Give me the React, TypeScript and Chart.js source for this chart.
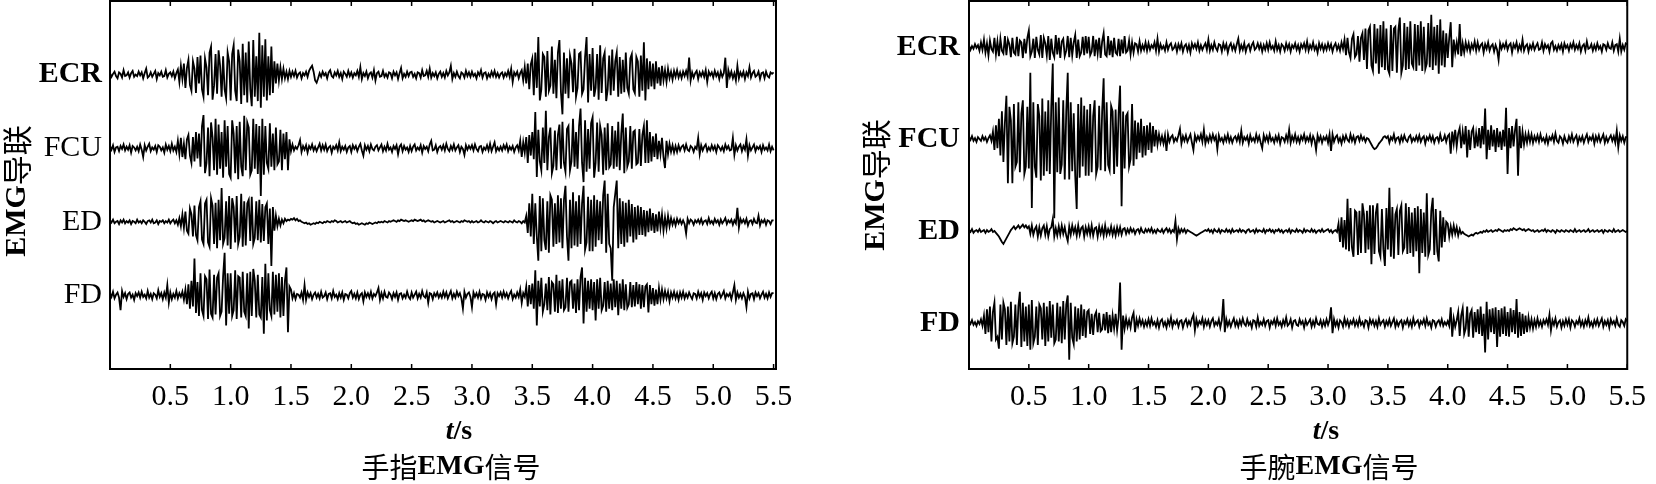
import React, { useEffect, useRef } from "react";
import { Chart, registerables } from "chart.js";

Chart.register(...registerables);

// ---------- data ----------
const DT = 0.0125; // spacing of the plotted samples (s)
const X_TICKS = [0.5, 1.0, 1.5, 2.0, 2.5, 3.0, 3.5, 4.0, 4.5, 5.0, 5.5];
const LEADS = ["FD", "ED", "FCU", "ECR"];
const LANES = [100, 200, 300, 400];
const Y_TITLE = "EMG导联";
const X_TITLE_VAR = "t";
const X_TITLE_UNIT = "/s";
const LEFT_CAPTION = "手指EMG信号";
const RIGHT_CAPTION = "手腕EMG信号";

// 手指 (finger) signals, one row = 0.25 s
const LEFT_ECR = [
  2, -3, 1, 4, -2, -5, 3, 1, -4, 6, -2, -1, 3, -4, 2, 5, -3, 0, -2, 4,
  -1, 3, -5, 2, 8, -4, -2, 3, -3, 1, 5, -6, 2, -1, 4, -3, -2, 6, -4, 1,
  3, -2, 4, -5, 2, 7, -10, 12, -6, 15, -18, 9, 20, -14, -22, 18, 8, -25, 24, -12,
  26, -20, -30, 22, 10, -28, 30, 38, -34, -15, 28, -26, 33, 12, -30, 25, -20, -32, 30, 18,
  -35, 28, 40, -22, -36, 34, 18, -40, 42, -28, 30, -38, 45, -20, -43, 47, -30, 25, -36, 57,
  -45, 40, -30, 48, -35, 25, -28, 38, -25, 18, -12, 15, -8, 10, -6, 8, -5, 4, -6, 5,
  -3, 4, -2, 5, -4, 1, 3, -5, 2, -1, 4, -3, 5, 9, 12, 4, -8, -11, -5, 2,
  -3, 4, -1, 2, -5, 3, 6, -2, -4, 3, -1, 5, -3, 2, -6, 4, 1, -3, 5, -2,
  3, -4, 2, -1, 5, -3, 10, -6, 2, -2, 4, -5, 1, 3, -4, 6, -8, 2, 4, -3,
  -2, 5, -3, 1, -4, 3, 2, -5, 4, -1, 3, -6, 2, 9, -5, 1, -3, 4, -2, 3,
  4, -3, 1, -5, 3, 2, -4, 6, -2, -1, 5, -3, 8, -4, 2, -2, 3, -5, 1, 4,
  -3, 2, -4, 5, -1, 3, 12, -6, 2, -3, 4, -2, -5, 3, 1, -4, 5, -2, 3, -3,
  4, -2, 1, -5, 3, -1, 6, -4, 2, 3, -5, 1, -3, 4, -2, 5, -3, 2, -4, 1,
  3, -4, 2, -2, 5, -3, 8, -10, 3, -1, 4, -5, 2, 6, -8, 10, -12, 15, -20, 14,
  22, -28, 30, -18, 51, -35, -20, 28, 24, -30, 32, -22, -15, 38, -26, 20, -32, 30, 47, -24,
  -54, 30, -26, 22, -32, 26, 15, -24, 35, -30, -18, 28, 30, -26, -20, 24, 51, -38, 28, -22,
  36, -30, -18, 28, -34, 40, -25, 22, 30, -36, -20, 26, -28, 34, -22, 18, 30, -30, 24, -26,
  20, -24, 30, -18, -26, 22, 28, -20, -25, 24, 18, -30, 26, -22, 44, -35, 22, -20, 18, -16,
  15, -20, 18, -12, 10, -15, 12, -8, 6, -10, 8, -5, 4, -7, 5, -3, 6, -4, 3, -5,
  4, -2, 5, -3, 23, -8, 3, -4, 2, 5, -6, 3, -2, 4, -3, 6, -10, 4, -1, 3,
  -4, 5, -2, 3, -6, 4, -3, 2, 23, -18, 6, -3, 4, -5, 2, -8, 12, -5, 3, -2,
  4, -6, 3, -2, 10, -4, 2, 5, -3, -1, 4, -6, 2, 3, -5, 4, -2, -4, 3, 1,
  3,
];
const LEFT_FCU = [
  3, -2, 4, -5, 1, 2, -4, 3, -1, 5, -3, 2, -2, 4, -6, 3, 1, -3, 2, -4,
  5, -2, -12, 4, -3, 2, 6, -4, 1, -2, 3, -5, 4, 2, -3, 1, -6, 5, -2, 3,
  -4, 6, -3, 2, -5, 10, -8, 14, -12, 6, -15, 12, 18, -10, -20, 15, -18, 22, -14, 20,
  -25, 30, 45, -34, -20, 28, -38, 35, 15, -30, 40, -36, 32, -28, 22, -40, 38, -25, 30, -35,
  -40, 38, 20, -34, 30, -42, 36, -25, -38, 44, -30, 35, 28, -36, -30, 40, -28, 33, -35, 30,
  -65, 40, -36, 30, -20, -28, 34, -25, 20, -30, 28, -22, -18, 25, -30, 20, -15, 22, -30, 12,
  -4, 5, -3, 2, -1, 4, 11, -5, 3, -2, 4, -6, 3, -1, 5, -3, 2, -4, 1, 6,
  -3, 4, -2, 5, -4, 1, 3, -6, 2, -1, 4, -3, 8, -4, 2, -2, 3, -5, 1, 3,
  -5, 4, -1, 3, -4, 2, 6, -3, -10, 4, -2, 3, -4, 5, -1, -3, 2, 4, -3, 1,
  5, -4, 2, -3, 6, -2, 1, -5, 3, -1, 4, -8, 2, 5, -4, 3, -2, 1, -5, 3,
  -4, 2, 5, -3, 1, -2, 4, -6, 3, -1, 2, -4, 5, 10, -3, -2, 4, -5, 1, 3,
  -2, 4, -3, 6, -1, -4, 3, -2, 5, -3, 1, 4, -5, 2, -1, -9, 4, -2, 3, -1,
  4, -3, 5, -1, -4, 2, 3, -5, 1, -2, 4, -3, 6, -4, 2, 8, -4, 1, -3, 2,
  -3, 4, -1, 5, -4, 2, -2, 3, -5, 1, 4, -3, 10, -12, 8, -6, 15, -20, 18, -10,
  22, -15, 49, -39, 25, -18, -30, 28, -20, 51, -30, 15, 28, -34, -24, 24, -30, 18, 32, -28,
  36, -20, -32, 26, 30, -30, -18, 40, -25, 22, -28, 30, 54, -20, -46, 38, -32, 26, -28, 34,
  42, -40, -20, 35, -32, 30, 18, -36, 28, -30, 34, -26, -22, 30, -28, 24, -25, 36, -30, 20,
  47, -34, 28, -25, -18, 30, -28, 22, 24, -22, -20, 26, -24, 18, 30, -20, 38, -20, 22, -18,
  16, -12, 20, -15, 10, -8, 14, -12, -27, 10, -8, 6, -5, 4, -6, 3, -5, 4, -3, 2,
  4, -3, 5, -2, -4, 3, 1, -5, 2, -1, 14, -8, 4, -3, 2, 5, -4, 1, -3, 4,
  -2, 3, -5, 4, 1, -3, 2, -4, 5, -1, 3, -3, -2, 14, -9, 4, -3, 2, 5, -4,
  3, -2, 12, -10, 4, -3, 1, 5, -4, 2, -1, 3, -5, 4, -2, 1, -3, 5, -4, 2,
  -3,
];
const LEFT_ED = [
  2, -1, 3, -2, 0, 1, -3, 2, -1, 3, -2, 1, -1, 2, -3, 1, 0, -2, 3, -1,
  1, -2, 2, 0, -3, 1, 2, -1, 3, -2, -1, 2, -3, 1, 0, 2, -2, 1, -1, 3,
  -2, 1, 3, -2, 2, -4, 5, -6, 10, -8, 14, -12, -16, 18, 10, -20, 22, -18, -25, 20,
  28, -24, -30, 25, 30, -28, -34, 32, 22, -30, 26, -36, 30, -25, 46, -30, -22, 28, -32, 35,
  -37, 32, 20, -28, 35, -30, -20, 38, -34, 28, -32, 25, 30, -26, 34, -30, -22, 28, -25, 30,
  -28, 24, -26, 20, 25, -30, 18, -60, 20, -12, 8, -6, 4, -5, 3, -2, 4, 1, 3, 2,
  4, 3, 5, 2, 4, 1, 2, 0, -1, -2, -1, -3, -2, -4, -3, -2, -3, -1, -2, 0,
  -1, -2, 0, -1, 1, 0, -1, 1, 0, 2, 1, -1, 0, 1, -1, 0, 1, -1, 0, 1,
  -1, -2, -1, -3, -2, -4, -3, -2, -3, -4, -2, -3, -1, -2, -3, -2, -1, -2, 0, -1,
  0, -1, 1, 0, -1, 1, 0, 1, 2, 1, 0, 2, 1, 3, 2, 1, 2, 1, 0, 1,
  2, 1, 3, 2, 1, 2, 3, 1, 2, 0, 1, 2, 1, 0, 1, -1, 0, 1, 0, -1,
  0, 1, -1, 0, 1, 2, 0, 1, -1, 0, 1, 0, -1, 1, 0, 2, 1, 0, 1, -1,
  1, -1, 0, 1, -1, 0, 2, 0, -1, 1, 0, -1, 1, 0, -2, 0, 1, -1, 0, 1,
  0, -1, 1, 0, -1, 1, 0, -1, 2, 0, -1, 1, 0, -2, 1, -1, 8, -15, 25, -20,
  38, -30, 25, -20, -53, 35, -40, 32, -25, -38, 28, -42, 36, 30, -34, 25, -30, 36, -28, 32,
  -36, 30, 49, -20, -53, 30, -36, 40, -32, 28, -34, 36, -30, 25, 49, -38, -28, 34, -40, 30,
  -40, 36, -34, 30, -25, 28, -30, 36, 56, -42, 38, -30, -36, -80, 20, 38, 56, -36, 32, -30,
  28, -34, 26, -28, 30, -20, 24, -28, 20, -24, 22, -18, 20, -18, 16, -20, 15, -14, 18, -12,
  12, -15, 10, -13, 14, -8, 10, -12, 6, -9, 8, -6, 5, -4, 3, -5, 4, -2, 3, -3,
  2, -3, -16, 4, -2, 3, 1, -4, 2, -1, 3, -2, 4, -3, 1, 2, -3, 5, -2, 1,
  -3, 4, -1, 2, -4, 3, -2, 1, 5, -3, 2, -1, 3, -4, 2, -2, 19, -8, 4, -1,
  3, -2, 4, -5, 1, 2, -3, 4, -1, -2, 8, -5, 2, -1, 3, -4, 2, 1, -3, 2,
  2,
];
const LEFT_FD = [
  3, -2, 5, -4, 1, 4, -3, -20, 6, -2, 3, -5, 2, 4, -3, 1, -6, 3, -1, 4,
  -3, 5, -2, 1, -4, 6, -3, 2, -5, 3, 1, -4, 7, -2, 3, -5, 4, -3, 14, -10,
  4, -5, 2, -3, 6, -4, 3, -2, 5, -6, 8, -12, 15, -18, 20, -15, 50, -24, 18, -28,
  30, -20, -28, 26, 22, -32, 35, -25, -30, 28, -26, 24, 30, -28, -22, 26, 58, -41, 30, -25,
  30, -28, -20, 34, -32, 26, 24, -30, 32, -22, -28, 30, -45, 32, -28, 36, 20, -30, 28, -26,
  -30, 25, -52, 43, -34, 30, -20, -28, 32, -26, 28, -22, 30, -30, 25, -28, 20, 38, -50, 12,
  8, -4, 3, -5, 2, 1, -3, 4, -6, 14, -6, 4, -2, 3, -5, 1, 4, -3, 2, -4,
  5, -3, -1, 4, -5, 2, 3, -4, 6, -2, 1, -5, 3, -3, 4, -6, 2, 1, -4, 3,
  6, -3, 2, -4, 4, -5, 1, 3, -8, 4, -2, 3, -3, 5, -4, 2, -1, 4, 10, -6,
  3, -4, 5, -2, -3, 4, 1, -5, 3, -2, 4, -6, 2, 3, -4, 1, -3, 5, -2, -5,
  4, -3, 1, 5, -4, 2, -3, 6, -1, -3, 4, -10, 3, 2, -5, 3, -1, 4, -3, 2,
  -3, 5, -2, 4, -4, 1, 6, -4, 2, -3, 5, -1, 3, -4, -18, 5, -3, 2, 4, -2,
  -16, 4, -2, 3, -3, 5, -4, 2, 1, -6, 4, -2, 3, -5, 2, 4, -12, 3, -1, 4,
  -3, 5, -2, 3, -4, 2, 6, -5, 1, -3, 4, -2, 8, -10, 3, -2, 12, -15, 14, -12,
  16, -18, 34, -41, 20, -15, 24, -22, -12, 16, -20, 25, -26, 18, 15, -22, 28, -24, 20, -18,
  22, -20, -16, 24, -22, 18, 20, -18, 16, -24, 22, -20, 25, 38, -38, 24, -22, 20, -18, 22,
  -20, 18, -34, 22, -18, 24, -20, -14, 18, -22, 20, -18, 16, -20, 22, -16, 20, -27, 16, -18,
  22, -20, 15, -17, -12, 18, -16, 14, -15, 18, -12, 15, -18, 14, -16, 12, 15, -23, 14, -12,
  10, -14, 8, -12, 10, -6, 8, -5, 6, -4, 5, -8, 4, -3, 5, -4, 3, -6, 4, -3,
  5, -4, 2, -3, 4, -1, -5, 3, 2, -4, 5, -2, 3, -6, 4, -1, 3, -4, 2, 5,
  -4, 3, -5, 2, 4, -3, 1, 6, -4, 2, -1, 3, -5, 4, 14, -6, 4, -3, 2, -4,
  3, -2, -16, 5, -4, 2, 3, -5, 4, -1, 3, -4, 1, 5, -3, 2, -4, 4, -2, 3,
  3,
];

// 手腕 (wrist) signals, one row = 0.25 s
const RIGHT_ECR = [
  2, -3, 1, -2, 3, -1, 2, -4, 5, -3, 8, -6, 4, -9, 7, -2, -5, 10, -8, 6,
  -10, 9, -4, -7, 12, -9, 8, 3, -11, 10, -6, -8, 11, -10, 7, 5, -12, 9, -7, 10,
  18, -10, -5, 9, -12, 11, -3, -8, 13, -12, 10, 4, -9, 12, -14, 9, -6, -11, 13, -8,
  10, -12, 6, 9, -10, -4, 12, -11, 10, -9, 5, 13, -12, 8, -10, -6, 11, -9, 12, -7,
  11, -9, -5, 12, -10, 8, -7, 10, -12, 6, 15, -8, -10, 12, -9, 7, -11, 10, -6, -8,
  9, -10, 8, -7, 12, -6, -4, 7, -8, 5, -6, 4, 3, -5, 6, -4, 2, -3, 5, -4,
  4, -3, 2, -1, 5, -4, 9, -5, 3, -2, 1, -4, 5, -3, 2, 4, -3, -1, 3, -5,
  3, -2, 4, -5, 1, 3, -4, 2, -6, 4, -1, 3, -2, 5, -4, 2, -3, 1, 4, -3,
  8, -4, 2, -3, 5, -1, -4, 3, 2, -5, 4, -2, 3, -6, 1, 4, -3, 2, -4, 3,
  9, -4, 2, -3, 4, -5, 1, 3, -4, 2, 5, -3, -1, 4, -2, 3, -5, 2, -3, 4,
  -3, 5, -2, 1, -4, 6, -3, 2, -5, 3, 1, -4, 4, -2, 3, -5, 2, -1, 4, -3,
  2, -5, 3, -1, 4, -3, 6, -4, 2, -2, 5, -3, 1, -6, 4, -2, 3, -4, 2, -3,
  4, -2, 3, -5, 1, 4, -3, 2, -4, 5, -2, 8, -9, 10, -6, -12, 9, 14, -11, -8,
  12, -16, 10, 15, -14, 20, -24, 18, 22, -20, -26, 25, -18, 20, -29, 24, -22, 28, -25, 20,
  -24, -29, 24, -26, 20, 22, -28, 18, 32, -28, -20, 26, -25, 22, -24, 28, -18, -22, 25, -26,
  24, -20, 28, -26, 22, -24, -18, 26, -22, 35, -25, 22, -20, 24, -29, 30, -20, 18, -22, 15,
  -12, 10, 27, -22, 8, -6, 5, -8, 25, -10, 4, -6, 5, -3, 4, -5, 3, -2, 6, -4,
  5, -3, 2, 4, -6, 3, -2, 5, -4, 1, 3, -5, 2, -3, -14, 4, -2, 3, -1, 5,
  -3, 2, 4, -6, 3, -1, 5, -4, 2, -3, 8, -4, 1, 3, -5, 2, -2, 4, -3, 1,
  4, -3, -2, 5, -4, 3, -1, 2, -5, 4, 6, -3, 1, -4, 2, -2, 3, -5, 4, -1,
  2, -4, 3, -1, 5, -3, 2, -2, 4, -5, 1, 3, -4, 6, -2, -1, 3, -4, 2, -3,
  4, -2, 1, -5, 3, 2, -3, 4, -1, -2, 5, -4, 2, 3, -5, 9, -5, 2, -3, 4,
  3,
];
const RIGHT_FCU = [
  2, -1, 3, -2, 1, -3, 2, 0, -2, 3, -1, 2, -3, 1, 4, -2, 8, -12, 15, -10,
  22, -18, 30, -25, 18, 47, -48, 35, 20, -48, 38, -30, -25, 40, -36, 28, 42, -38, -30, 35,
  -32, 72, -75, 40, -30, -42, 38, 25, -45, 44, -40, 30, -35, 42, -38, 35, 82, -86, 40, -36,
  45, -38, -28, 42, -44, 30, 72, -44, 40, -35, 28, -40, -76, 38, -42, 45, -30, 36, -40, 32,
  -40, 38, -36, 25, 42, -38, -30, 36, -34, 30, 66, -35, 40, -28, -34, 36, 30, -38, 32, -30,
  28, 58, -73, 30, -32, 25, 28, -30, -22, 38, -29, 20, -22, 18, -15, 22, -20, 14, -18, 15,
  -12, 18, -15, 14, -8, 10, -6, 5, -4, 3, -5, 4, -13, 5, -3, 2, 4, -3, 1, -2,
  4, 11, -5, 3, -2, 4, -3, 1, 5, -4, -12, 4, -2, 3, -1, 5, -3, 10, -5, 2,
  -3, 4, -2, 5, -1, 3, -11, 4, -2, 1, -4, 3, -2, 5, -3, 2, -4, 1, 3, -2,
  4, -3, 9, -4, 2, -1, 3, -5, 4, -2, 1, -3, 5, -2, 3, -4, -10, 4, -2, 3,
  -3, 5, -2, 1, -4, 3, -2, 4, -5, 2, 1, -3, 4, -2, 10, -4, 3, -2, 5, -3,
  2, -4, 3, -1, 5, -3, 2, -2, 4, -5, 3, -1, -12, 4, -2, 3, -4, 2, -1, 3,
  -4, 5, -13, 5, -3, 2, 4, -3, 1, -5, 3, -2, 4, -1, -3, 5, -2, 3, -4, 2,
  3, -2, 4, -1, 2, -3, 1, 0, -3, -6, -9, -11, -10, -8, -5, -3, -1, 2, 3, 1,
  3, -4, 2, -1, 5, -3, 1, 2, -4, 3, -2, 4, -1, -3, 2, 4, -3, 1, -2, 3,
  -2, 4, -3, 1, 3, -5, 2, -1, 4, -2, 3, -4, 1, 2, -3, 5, -2, -1, 4, -3,
  3, 5, -16, 8, -5, 10, -8, 6, 12, -10, 8, -6, 14, -20, 10, -12, 8, 12, -10, 6,
  -8, 12, -10, 14, -6, 33, -22, 10, -12, 15, -8, 10, -14, 12, -9, 8, -12, 10, -8, 34,
  -38, 12, -10, 14, -8, 10, 22, -40, 14, -10, 8, -6, 5, -4, 6, -3, 5, -4, 3, -2,
  4, -3, 5, -2, 1, -4, 3, -5, 2, -1, 4, -3, 6, -2, -4, 3, 1, -5, 3, -2,
  -4, 3, -2, 5, -3, 1, 4, -5, 2, -2, 3, -4, 1, 5, -3, 2, -1, 4, -5, 3,
  -2, 4, -3, 1, 5, -4, 2, -3, 1, 4, -2, 3, -4, 9, -9, 4, -2, 3, -4, 2,
  2,
];
const RIGHT_ED = [
  1, -1, 2, -2, 0, 1, -1, 2, -1, 0, 1, -2, 1, -1, 0, 2, -1, 0, -2, -4,
  -6, -9, -12, -14, -11, -8, -5, -2, 1, 3, 5, 2, 4, 6, 3, 5, 7, 4, 6, 3,
  5, -3, 6, -4, 2, 5, -6, 4, -5, 3, 6, -4, 5, -6, 2, 4, 13, -6, 3, -5,
  5, -4, 6, -3, 4, -5, -11, 5, -4, 6, -2, 4, -5, 6, -4, 3, 5, -6, 4, -3,
  5, -4, 6, -5, 3, 4, -6, 5, -3, 4, -5, 6, -4, 2, -3, 5, -4, 3, -5, 4,
  -3, 4, -4, 2, 3, -3, 2, -2, 3, -1, 2, -3, 1, 2, -2, 3, -1, -2, 2, -1,
  2, -1, 3, -2, 1, -2, 2, 0, -1, 2, -2, 1, 3, -1, 2, -2, 1, -1, 11, -9,
  3, -2, 2, -1, 2, -2, 1, 0, -1, -2, -3, -4, -5, -4, -3, -2, -1, 0, 1, 0,
  2, -1, 1, -2, 2, 0, -1, 2, -2, 1, 0, -1, 2, -1, 1, -2, 2, -1, 0, 1,
  -1, 2, -1, 1, 0, -2, 1, 2, -1, 0, 1, -2, 2, -1, 1, 0, -1, 2, -2, 1,
  0, 2, -1, 1, -2, 1, 0, 2, -1, 1, -2, 0, 1, -1, 2, -2, 1, 0, -1, 2,
  -1, 1, 0, -2, 2, -1, 1, 0, -1, 2, -1, 1, -2, 0, 1, -1, 2, -1, 0, 1,
  2, -1, 1, -2, 0, 1, -1, 8, -12, 15, -18, 12, -20, 35, -22, 25, -18, -28, 22, 20,
  -26, 22, -24, 30, 18, -24, 22, -20, 28, -36, 28, -25, 20, 30, -22, -28, 24, -20, -38, 25,
  -20, 47, -28, 26, -30, 18, 24, -26, 22, 28, -22, -18, 30, -25, 26, -24, 20, -28, 25, -22,
  27, -46, 24, -24, 20, -28, 41, -26, -20, 22, 36, -26, 24, -22, -33, 22, -18, 15, -12, 10,
  8, -6, 5, -4, 6, -3, 4, -5, 2, -3, -1, -3, -4, -5, -6, -5, -4, -5, -3, -2,
  -3, -2, -1, -2, 0, -1, 1, -1, 0, 1, -1, 0, 1, 0, 2, 1, 0, -1, 1, 0,
  1, 0, 2, 1, 3, 2, 1, 2, 3, 2, 1, 2, 0, 1, 2, 1, 0, 1, -1, 0,
  1, -1, 0, 1, 0, 2, -1, 1, 0, -1, 1, 0, -2, 1, 0, -1, 1, 0, -1, 1,
  0, -1, 1, 0, -1, 2, -1, 0, 1, -1, 0, 1, -1, 0, 2, -1, 0, 1, -1, 0,
  1, -1, 0, 1, -2, 1, 0, -1, 1, 0, -1, 2, -1, 0, 1, -1, 0, 1, 0, -1,
  0,
];
const RIGHT_FD = [
  2, -1, 3, -2, 1, -3, 2, -1, 4, -3, 8, -12, 15, -10, 18, -20, 12, 22, -18, -15,
  -28, 20, -18, 22, 15, -24, 18, -20, 23, -22, -15, 20, -24, 18, 34, -26, 22, -20, 18, -25,
  20, -29, 25, -22, -15, 18, -24, 20, 16, -18, 22, -25, 18, -20, 24, -16, 20, -22, -18, 22,
  -20, 18, -22, 24, -18, 20, 30, -40, 22, -16, -23, 18, -20, 16, -18, 20, -14, 15, -16, 12,
  14, -12, 10, -13, 8, 12, -10, 11, -9, -7, 10, -8, 12, -11, 9, -10, 8, -6, 10, -8,
  6, 44, -29, 8, -6, 5, -4, 3, -5, 6, 11, -10, 4, -3, 5, -2, 3, -4, 2, -3,
  4, -3, 5, -2, 1, -4, 3, -5, 2, 4, -3, 1, -5, 3, -2, 6, -4, 2, -1, 3,
  -4, 2, 3, -5, 1, 4, -3, 2, -2, 5, 9, -8, 4, -3, 2, -1, 5, -4, 3, -2,
  3, -4, 2, 5, -3, 1, -2, 4, -5, 3, 26, -10, 4, -3, 2, -4, 1, 5, -3, 2,
  -4, 3, -2, 5, -1, -3, 4, -2, 1, -5, 3, 2, -4, 6, -3, 1, -2, 4, -3, 2,
  3, -5, 2, -1, 4, -3, 5, -2, 1, -4, 3, -2, 6, -3, -1, 4, -5, 2, 3, -2,
  -3, 4, -1, 2, -5, 3, -2, 1, 4, -4, 2, -3, 5, -1, -2, 3, -4, 2, -3, 4,
  -2, 3, 17, -11, 4, -3, 2, -5, 3, 1, -4, 5, -2, 3, -4, 2, -1, 4, -3, 2,
  -3, 5, -2, 1, -4, 3, 2, -5, 4, -1, 3, -3, 2, -4, 5, -2, 1, 3, -4, 2,
  -2, 4, -3, 1, 5, -4, 2, -3, 1, 3, -5, 2, -1, 4, -3, 2, -4, 5, -2, 1,
  3, -4, 2, -1, 4, -3, 5, -2, 1, -5, 3, 2, -4, 1, 3, -2, 4, -3, 1, -2,
  2, -3, 17, -15, 5, -4, 3, 12, -14, 8, 16, -12, -6, 18, -15, 10, 14, -16, 12, -10,
  15, -12, 18, -14, 10, -32, 23, -18, 15, -10, 16, -12, 17, -26, 14, -15, 16, -12, 18, -14,
  12, -15, 16, -10, 14, -12, 26, -16, 12, -14, 10, -12, 8, -10, 6, -5, 4, -6, 3, -4,
  5, -3, 2, -4, 3, -1, 4, -2, 9, -8, 3, -2, 5, -4, 1, 3, -5, 2, -3, 4,
  -2, 4, -5, 3, 1, -4, 2, -1, 5, -3, 2, -4, 3, -2, 6, -3, 1, -4, 3, -2,
  4, -3, 1, 5, -4, 2, -2, 3, -5, 4, -1, 2, -3, 5, -2, -4, 3, 1, -3, 4,
  2,
];

// ---------- drawing ----------
const SERIF = '"Liberation Serif", "Times New Roman", serif';
const CJK = '"Noto Sans CJK SC", sans-serif';

type Run = { text: string; font: string };

function splitRuns(text: string, size: number): Run[] {
  return text
    .split(/([A-Za-z]+)/)
    .filter((s) => s.length > 0)
    .map((s) =>
      /[A-Za-z]/.test(s)
        ? { text: s, font: `bold ${size}px ${SERIF}` }
        : { text: s, font: `${size}px ${CJK}` }
    );
}

function drawRuns(ctx: CanvasRenderingContext2D, runs: Run[], x: number, y: number, rotate: boolean) {
  ctx.save();
  ctx.translate(x, y);
  if (rotate) ctx.rotate(-Math.PI / 2);
  ctx.textBaseline = "middle";
  ctx.textAlign = "left";
  ctx.fillStyle = "#000";
  let total = 0;
  const widths = runs.map((r) => {
    ctx.font = r.font;
    const w = ctx.measureText(r.text).width;
    total += w;
    return w;
  });
  let cx = -total / 2;
  runs.forEach((r, i) => {
    ctx.font = r.font;
    ctx.fillText(r.text, cx, 0);
    cx += widths[i];
  });
  ctx.restore();
}

type Panel = {
  id: string;
  series: number[][];
  yMin: number;
  yMax: number;
  xMax: number;
  axisWidth: number;
  padRight: number;
  labelPad: number;
  bold: boolean[];
  caption: string;
  yTitleAt: [number, number];
  xTitleAt: [number, number];
  captionAt: [number, number];
};

const PANELS: Panel[] = [
  {
    id: "finger",
    series: [LEFT_FD, LEFT_ED, LEFT_FCU, LEFT_ECR],
    yMin: 0,
    yMax: 500,
    xMax: 5.52,
    axisWidth: 110,
    padRight: 52,
    labelPad: 8,
    bold: [false, false, false, true],
    caption: LEFT_CAPTION,
    yTitleAt: [17, 191],
    xTitleAt: [459, 432],
    captionAt: [451, 467],
  },
  {
    id: "wrist",
    series: [RIGHT_FD, RIGHT_ED, RIGHT_FCU, RIGHT_ECR],
    yMin: 50,
    yMax: 450,
    xMax: 5.5,
    axisWidth: 141,
    padRight: 22,
    labelPad: 9,
    bold: [true, true, true, true],
    caption: RIGHT_CAPTION,
    yTitleAt: [48, 185],
    xTitleAt: [498, 432],
    captionAt: [501, 467],
  },
];

function buildChart(canvas: HTMLCanvasElement, p: Panel) {
  const datasets = p.series.map((arr, k) => ({
    label: LEADS[k],
    data: arr.map((v, i) => ({ x: i * DT, y: LANES[k] + v })),
    borderColor: "#000",
    borderWidth: 1.8,
    pointRadius: 0,
    tension: 0,
    fill: false,
  }));

  const overlay = {
    id: "overlay-" + p.id,
    afterDraw(chart: any) {
      const { ctx, chartArea: a, scales } = chart;
      ctx.save();
      ctx.strokeStyle = "#000";
      ctx.lineWidth = 2;
      ctx.strokeRect(a.left, a.top, a.right - a.left, a.bottom - a.top);
      ctx.lineWidth = 1.5;
      X_TICKS.forEach((v) => {
        const px = scales.x.getPixelForValue(v);
        ctx.beginPath();
        ctx.moveTo(px, a.top);
        ctx.lineTo(px, a.top + 5);
        ctx.moveTo(px, a.bottom);
        ctx.lineTo(px, a.bottom - 5);
        ctx.stroke();
      });
      ctx.restore();
      drawRuns(ctx, splitRuns(Y_TITLE, 30), p.yTitleAt[0], p.yTitleAt[1], true);
      drawRuns(
        ctx,
        [
          { text: X_TITLE_VAR, font: `italic bold 28px ${SERIF}` },
          { text: X_TITLE_UNIT, font: `bold 28px ${SERIF}` },
        ],
        p.xTitleAt[0],
        p.xTitleAt[1],
        false
      );
      drawRuns(ctx, splitRuns(p.caption, 28), p.captionAt[0], p.captionAt[1], false);
    },
  };

  return new Chart(canvas, {
    type: "line",
    data: { datasets } as any,
    options: {
      responsive: false,
      animation: false,
      devicePixelRatio: 1,
      events: [],
      layout: { padding: { left: 0, top: 1, right: p.padRight, bottom: 0 } },
      plugins: { legend: { display: false }, tooltip: { enabled: false } },
      scales: {
        x: {
          type: "linear",
          min: 0,
          max: p.xMax,
          grid: { display: false, drawTicks: false },
          border: { display: false },
          afterBuildTicks: (s: any) => {
            s.ticks = X_TICKS.map((v) => ({ value: v }));
          },
          afterFit: (s: any) => {
            s.height = 115;
          },
          ticks: {
            autoSkip: false,
            maxRotation: 0,
            padding: 10,
            color: "#000",
            font: { family: SERIF, size: 30 },
            callback: (v: any) => Number(v).toFixed(1),
          },
        },
        y: {
          type: "linear",
          min: p.yMin,
          max: p.yMax,
          grid: { display: false, drawTicks: false },
          border: { display: false },
          afterBuildTicks: (s: any) => {
            s.ticks = LANES.map((v) => ({ value: v }));
          },
          afterFit: (s: any) => {
            s.width = p.axisWidth;
            s.paddingTop = 0;
            s.paddingBottom = 0;
          },
          ticks: {
            autoSkip: false,
            padding: p.labelPad,
            color: "#000",
            font: (c: any) => ({
              family: SERIF,
              size: 30,
              weight: p.bold[LANES.indexOf(c.tick ? c.tick.value : -1)] ? "bold" : "normal",
            }),
            callback: (v: any) => LEADS[LANES.indexOf(Number(v))] ?? "",
          },
        },
      },
    } as any,
    plugins: [overlay as any],
  });
}

export default function App() {
  const leftRef = useRef<HTMLCanvasElement | null>(null);
  const rightRef = useRef<HTMLCanvasElement | null>(null);

  useEffect(() => {
    const charts: Chart[] = [];
    if (leftRef.current) charts.push(buildChart(leftRef.current, PANELS[0]));
    if (rightRef.current) charts.push(buildChart(rightRef.current, PANELS[1]));
    return () => charts.forEach((c) => c.destroy());
  }, []);

  return (
    <div style={{ position: "absolute", left: 0, top: 0, width: 1656, height: 484, background: "#fff" }}>
      <canvas ref={leftRef} width={828} height={484} style={{ position: "absolute", left: 0, top: 0 }} />
      <canvas ref={rightRef} width={828} height={484} style={{ position: "absolute", left: 828, top: 0 }} />
    </div>
  );
}
